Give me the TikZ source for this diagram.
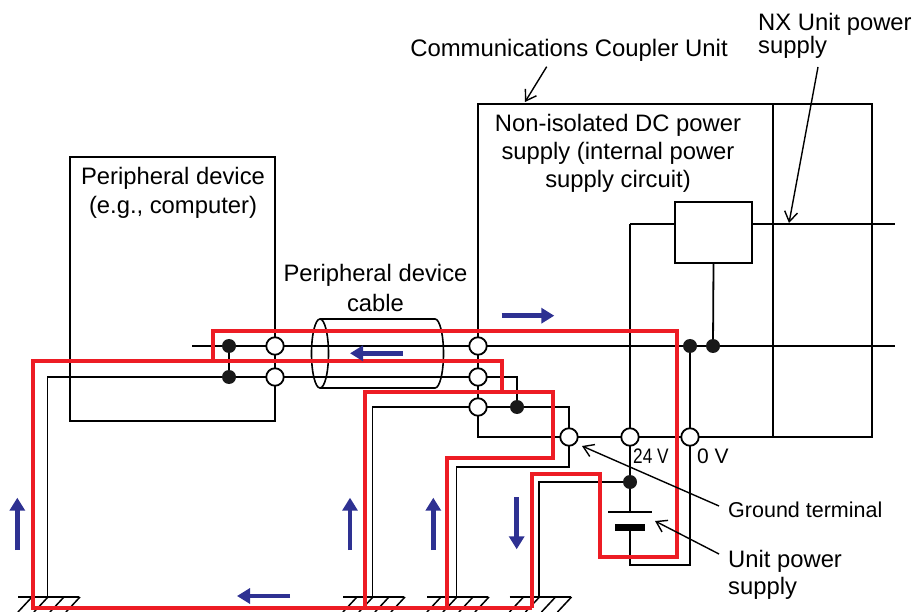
\documentclass[tikz,border=0pt]{standalone}
\usepackage{fontspec}
\usepackage{graphicx}
\setmainfont{Liberation Sans}
\usetikzlibrary{arrows.meta}
\definecolor{cred}{RGB}{237,28,36}
\definecolor{cblue}{RGB}{46,49,146}
\begin{document}
\begin{tikzpicture}[x=1pt,y=-1pt,
  wire/.style={line width=1.8pt, line join=miter},
  redw/.style={cred, line width=4pt, line join=miter},
  term/.style={circle, draw, fill=white, line width=1.8pt, minimum size=17.5pt, inner sep=0pt},
  jdot/.style={circle, fill=black!90, minimum size=14pt, inner sep=0pt},
  flow/.style={cblue, line width=4.5pt, -{Triangle[length=13pt,width=15pt]}},
  lead/.style={line width=1.4pt, -{Straight Barb[length=10pt,width=13pt]}},
  lbl/.style={inner sep=0pt, font=\fontsize{23.8}{29}\selectfont},
  gndsym/.pic={
    \draw[line width=1.8pt] (-29.5,0) -- (31.5,0);
    \foreach \k in {0,1,2,3} \draw[line width=1.5pt] (-29.5+14+16*\k,0) -- (-29.5+16*\k,15);
  }
]
\useasboundingbox (0,0) rectangle (916,612);

% ---------- coordinates ----------
\coordinate (PT1) at (275,346);
\coordinate (PT2) at (275,377);
\coordinate (PD1) at (229,346);
\coordinate (PD2) at (229,377);
\coordinate (CT1) at (478,346);
\coordinate (CT2) at (478,377);
\coordinate (CT3) at (478,407);
\coordinate (CD1) at (517,407);
\coordinate (GT)  at (569,437);
\coordinate (V24) at (630,437);
\coordinate (V0)  at (690,437);
\coordinate (RD1) at (690,346);
\coordinate (RD2) at (713,346);
\coordinate (BD)  at (630,482);
\coordinate (G1) at (47.5,597);
\coordinate (G2) at (372.5,597);
\coordinate (G3) at (456.5,597);
\coordinate (G4) at (539,597);

% ---------- boxes ----------
\draw[wire] (PT1) -- (275,157) -- (70,157) -- (70,421) -- (275,421) -- cycle;
\draw[wire] (CT1) -- (478,104) -- (872,104) -- (872,437) -- (478,437) -- cycle;
\draw[wire] (773,104) -- (773,437);
\node[draw, line width=1.8pt, minimum width=77pt, minimum height=61pt, inner sep=0pt] (PB) at (713.5,232.5) {};

% ---------- cable ----------
\draw[line width=1.6pt] (320,353.5) ellipse [x radius=8.5pt, y radius=34.5pt];
\draw[line width=1.6pt] (320,319) -- (435,319) arc[start angle=90, end angle=-90, x radius=8.5pt, y radius=34.5pt] -- (320,388);

% ---------- wires ----------
\draw[wire] (192,346) -- (895,346);
\draw[wire] (PD1) -- (PD2);
\draw[wire] (G1) -- (47.5,377) -- (CT2) -- (517,377) -- (CD1);
\draw[wire] (G2) -- (372.5,407) -- (CT3) -- (569,407) -- (GT);
\draw[wire] (GT) -- (569,467) -- (456.5,467) -- (G3);
\draw[wire] (630,224) -- (630,512);
\draw[wire] (630,224) -- (PB.west |- 630,224);
\draw[wire] (PB.east |- 630,224) -- (895,224);
\draw[wire] (PB.south) -- (RD2);
\draw[wire] (BD) -- (539,482) -- (G4);
\draw[wire] (608,512) -- (652,512);
\fill (615,524) rectangle (645,531);
\draw[wire] (630,531) -- (630,565) -- (690,565) -- (RD1);

% ---------- grounds ----------
\foreach \g in {G1,G2,G3,G4} \pic at (\g) {gndsym};

% ---------- terminals and junctions ----------
\foreach \c in {PT1,PT2,CT1,CT2,CT3,GT,V24,V0} \node[term] (n\c) at (\c) {};
\foreach \c in {PD1,PD2,CD1,RD1,RD2,BD} \node[jdot] (n\c) at (\c) {};

% ---------- current paths ----------
\draw[redw] (213,361) -- (213,331) -- (677,331) -- (677,557) -- (600,557) -- (600,474) -- (532,474) -- (532,608);
\draw[redw] (532,608) -- (33,608) -- (33,361) -- (502,361) -- (502,392);
\draw[redw] (365,608) -- (365,392) -- (553,392) -- (553,458) -- (447,458) -- (447,608);

% ---------- flow arrows ----------
\draw[flow] (501.7,315.7) -- (554.3,315.7);
\draw[flow] (402.7,353.3) -- (350,353.3);
\draw[flow] (290,596) -- (237,596);
\draw[flow] (17.3,550) -- (17.3,497.7);
\draw[flow] (350,550) -- (350,497.7);
\draw[flow] (433.3,550) -- (433.3,497.7);
\draw[flow] (516.7,497) -- (516.7,549.3);

% ---------- labels ----------
\node[lbl, anchor=base, font=\fontsize{23.9}{28}\selectfont] (lcc) at (569,57) {Communications Coupler Unit};
\node[lbl, anchor=base west, align=left, font=\fontsize{23.8}{21.6}\selectfont] (lnx) at (758,53.6) {NX Unit power\\supply};
\node[lbl, anchor=base, align=center, font=\fontsize{23.8}{28}\selectfont] (lnid) at (618,188) {Non-isolated DC power\\supply (internal power\\supply circuit)};
\node[lbl, anchor=base, align=center] (lpd) at (173,214) {Peripheral device\\(e.g., computer)};
\node[lbl, anchor=base, align=center, font=\fontsize{23.8}{29.3}\selectfont] (lcab) at (375.5,311.3) {Peripheral device\\cable};
\node[lbl, anchor=base west, font=\fontsize{21.5}{27}\selectfont] (lgt) at (728,517) {Ground terminal};
\node[lbl, anchor=base west, align=left, font=\fontsize{23.8}{27}\selectfont] (lups) at (728,594) {Unit power\\supply};
\node[lbl, anchor=base west, font=\fontsize{21}{25}\selectfont] (l24) at (633,463) {\scalebox{0.82}[1]{24 V}};
\node[lbl, anchor=base west, font=\fontsize{21}{25}\selectfont] (l0) at (697,463) {0 V};

% ---------- leader arrows ----------
\coordinate (a1) at (546.7,66.7);
\coordinate (a2) at (818,67);
\coordinate (a3) at (719,506);
\coordinate (a4) at (719,554);
\draw[lead] (a1) -- (525,102);
\draw[lead] (a2) -- (789,223);
\draw[lead] (a3) -- (582,446);
\draw[lead] (a4) -- (655,521);
\end{tikzpicture}
\end{document}
